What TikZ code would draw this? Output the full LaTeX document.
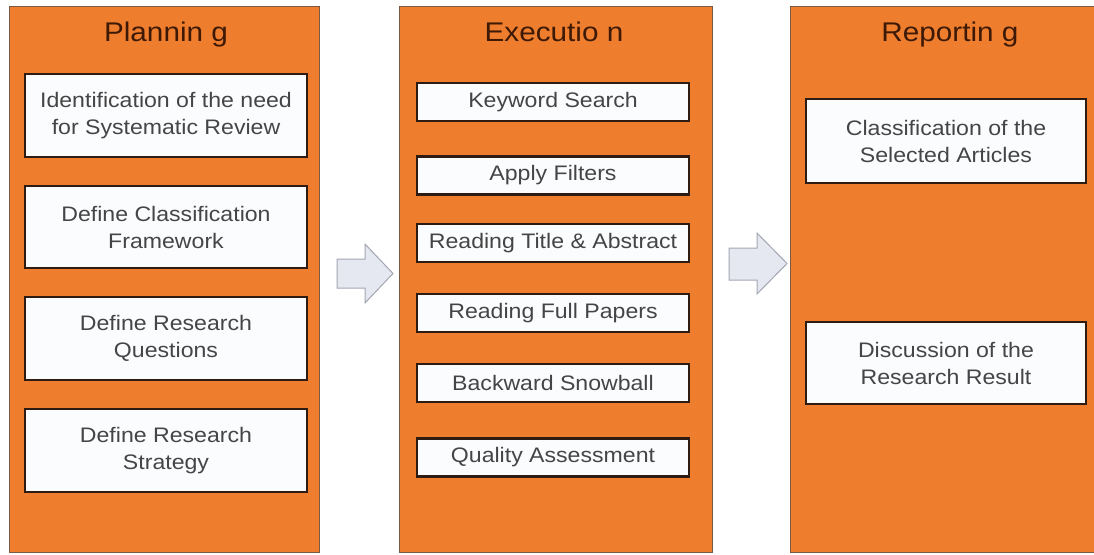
\documentclass[tikz,border=0pt]{standalone}
\usepackage{fontspec}
\setmainfont{Liberation Sans}[FakeStretch=1.1]
\definecolor{phase}{HTML}{EE7E2E}
\definecolor{phaseedge}{HTML}{7A5A44}
\definecolor{stepedge}{HTML}{2E1C12}
\definecolor{stepfill}{HTML}{FBFCFE}
\definecolor{steptext}{HTML}{454545}
\definecolor{titletext}{HTML}{3E1A06}
\definecolor{arrowfill}{HTML}{E5E8F0}
\definecolor{arrowedge}{HTML}{A3A7B2}
\tikzset{
  phasebox/.style={draw=phaseedge, line width=0.9pt, fill=phase, inner sep=0pt,
    minimum height=546pt},
  phasetitle/.style={anchor=base, inner sep=0pt, text=titletext,
    font=\fontsize{27}{30}\selectfont},
  stepbox/.style={draw=stepedge, line width=2.2pt, fill=stepfill, inner sep=0pt,
    align=center, text=steptext, font=\fontsize{21}{27}\selectfont},
  flowarrow/.style={draw=arrowedge, line width=1pt, fill=arrowfill, line join=miter}
}
\begin{document}
\begin{tikzpicture}[x=1pt,y=-1pt]
\useasboundingbox (0,0) rectangle (1094,554);
\fill[white] (0,0) rectangle (1094,554);
\begin{scope}
\clip (0,0) rectangle (1094,554);
% three phase panels
\node[phasebox, minimum width=310pt] (plan) at (164,279) {};
\node[phasebox, minimum width=313pt] (exec) at (555.5,279) {};
\node[phasebox, minimum width=312pt] (report) at (946,279) {};
\end{scope}

% panel titles
\node[phasetitle] (tplan) at (166,41) {Plannin g};
\node[phasetitle] (texec) at (554,41) {Executio n};
\node[phasetitle] (treport) at (950,41) {Reportin g};

% planning steps
\node[stepbox, minimum width=282pt, minimum height=83pt] (p1) at (166,115.5)
  {Identification of the need\\for Systematic Review};
\node[stepbox, minimum width=282pt, minimum height=82pt] (p2) at (166,227)
  {Define Classification\\Framework};
\node[stepbox, minimum width=282pt, minimum height=83pt] (p3) at (166,338.5)
  {Define Research\\Questions};
\node[stepbox, minimum width=282pt, minimum height=83pt] (p4) at (166,450.5)
  {Define Research\\Strategy};

% execution steps
\node[stepbox, minimum width=272pt, minimum height=38pt] (e1) at (553,102) {Keyword Search};
\node[stepbox, minimum width=272pt, minimum height=38pt] (e2) at (553,175.5) {Apply Filters};
\node[stepbox, minimum width=272pt, minimum height=38pt] (e3) at (553,243) {Reading Title \& Abstract};
\node[stepbox, minimum width=272pt, minimum height=38pt] (e4) at (553,313) {Reading Full Papers};
\node[stepbox, minimum width=272pt, minimum height=38pt] (e5) at (553,383) {Backward Snowball};
\node[stepbox, minimum width=272pt, minimum height=38pt] (e6) at (553,457.5) {Quality Assessment};

% reporting steps
\node[stepbox, minimum width=280pt, minimum height=84pt] (r1) at (946,141)
  {Classification of the\\Selected Articles};
\node[stepbox, minimum width=280pt, minimum height=82pt] (r2) at (946,363)
  {Discussion of the\\Research Result};

% block arrows between the phases
\draw[flowarrow] (337,259) -- (365,259) -- (365,244) -- (393,273.5) -- (365,303)
  -- (365,288) -- (337,288) -- cycle;
\draw[flowarrow] (729,248) -- (757,248) -- (757,233) -- (787,263.5) -- (757,294)
  -- (757,280) -- (729,280) -- cycle;
\end{tikzpicture}
\end{document}
